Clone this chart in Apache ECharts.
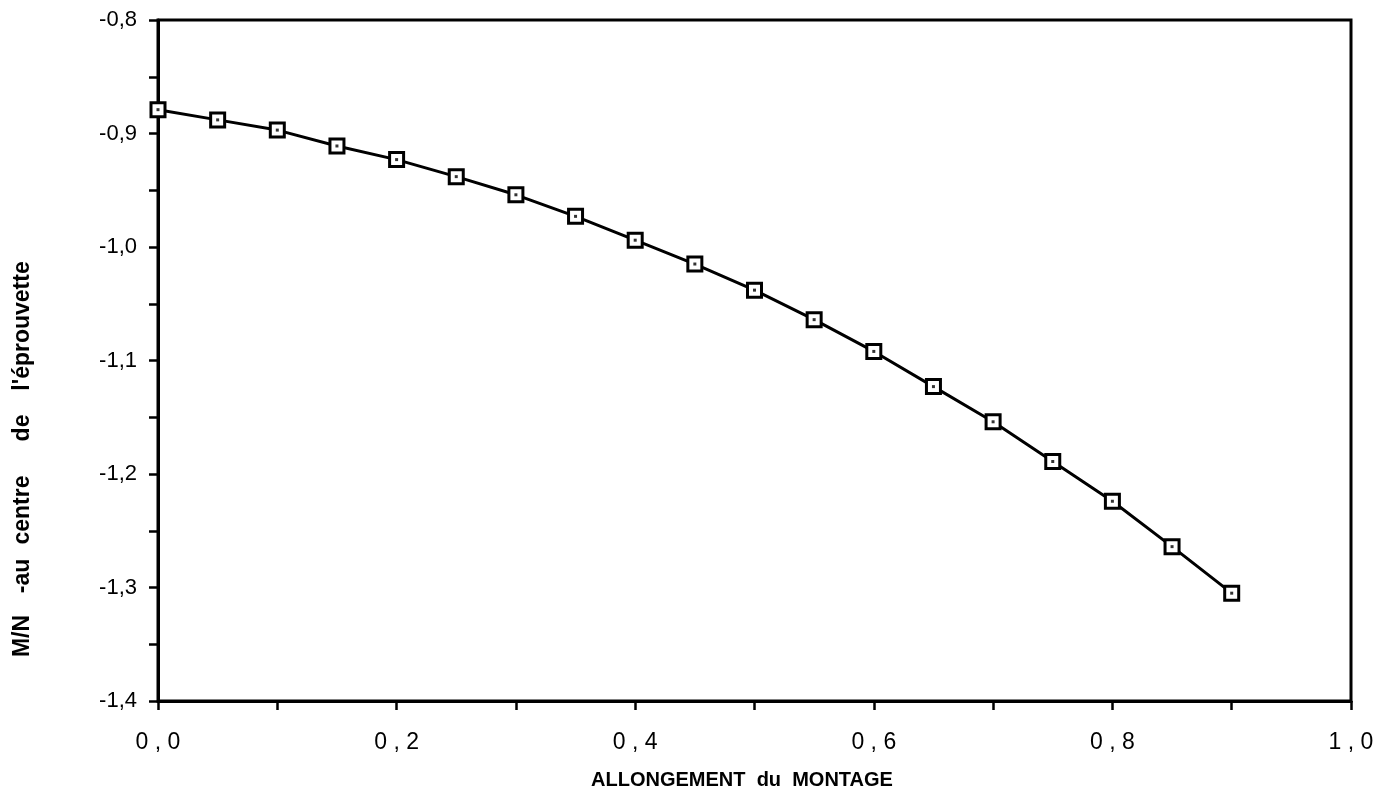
<!DOCTYPE html>
<html>
<head>
<meta charset="utf-8">
<title>M/N au centre de l'éprouvette</title>
<script src="https://cdn.jsdelivr.net/npm/echarts@6/dist/echarts.min.js"></script>
<style>
  html, body { margin: 0; padding: 0; background: #ffffff; }
  #chart { width: 1391px; height: 809px; }
</style>
</head>
<body>
<div id="chart"></div>
<script>
// Allongement du montage (abscisse)
const allongement = [0.00, 0.05, 0.10, 0.15, 0.20, 0.25, 0.30, 0.35, 0.40, 0.45,
                     0.50, 0.55, 0.60, 0.65, 0.70, 0.75, 0.80, 0.85, 0.90];
// M/N au centre de l'éprouvette
const mn = [-0.879, -0.888, -0.897, -0.911, -0.923, -0.938, -0.954, -0.973, -0.994, -1.015,
            -1.038, -1.064, -1.092, -1.123, -1.154, -1.189, -1.224, -1.264, -1.305];

const xTitle = 'ALLONGEMENT  du  MONTAGE';
// vertical title, word by word (widely spaced)
const yTitleWords = ['M/N', '-au', 'centre', 'de', 'l\'éprouvette'];
const yTitleCentres = [636, 576, 510, 428, 326];

const points = allongement.map((x, i) => [x, mn[i]]);
const font = '"Liberation Sans", Arial, Helvetica, sans-serif';
const comma = v => v.toFixed(1).replace('.', ',');

const chart = echarts.init(document.getElementById('chart'));
chart.setOption({
  backgroundColor: '#ffffff',
  animation: false,
  grid: {
    left: 158, right: 40, top: 20, bottom: 108,
    show: true, borderColor: '#000', borderWidth: 3, backgroundColor: 'transparent'
  },
  graphic: yTitleWords.map((w, i) => ({
    type: 'text',
    x: 23, y: yTitleCentres[i],
    rotation: Math.PI / 2,
    style: {
      text: w, fill: '#000', font: 'bold 23px ' + font,
      align: 'center', verticalAlign: 'middle'
    }
  })).concat([{
    type: 'text',
    x: 742, y: 780,
    style: {
      text: xTitle, fill: '#000', font: 'bold 20px ' + font,
      align: 'center', verticalAlign: 'middle'
    }
  }]),
  xAxis: {
    type: 'value', min: 0, max: 1, interval: 0.2,
    axisLine: { show: true, lineStyle: { color: '#000', width: 3 } },
    axisTick: { show: true, inside: false, length: 9, lineStyle: { color: '#000', width: 2.5 } },
    minorTick: { show: true, splitNumber: 2, length: 9, lineStyle: { color: '#000', width: 2.5 } },
    splitLine: { show: false },
    axisLabel: {
      margin: 30, color: '#000', fontFamily: font, fontSize: 23,
      formatter: v => comma(v).split('').join(' ')
    }
  },
  yAxis: {
    type: 'value', min: -1.4, max: -0.8, interval: 0.1,
    axisLine: { show: true, onZero: false, lineStyle: { color: '#000', width: 3 } },
    axisTick: { show: true, inside: false, length: 9, lineStyle: { color: '#000', width: 2.5 } },
    minorTick: { show: true, splitNumber: 2, length: 9, lineStyle: { color: '#000', width: 2.5 } },
    splitLine: { show: false },
    axisLabel: {
      margin: 21, color: '#000', fontFamily: font, fontSize: 22,
      formatter: v => comma(v)
    }
  },
  series: [
    {
      type: 'line',
      data: points,
      lineStyle: { color: '#000', width: 3 },
      symbol: 'rect', symbolSize: 14, showSymbol: true,
      itemStyle: { color: '#fff', borderColor: '#000', borderWidth: 3 },
      z: 2
    },
    {
      // centre dot of each square marker
      type: 'scatter',
      data: points,
      symbol: 'rect', symbolSize: 3,
      itemStyle: { color: '#000' },
      z: 3
    }
  ]
});
</script>
</body>
</html>
